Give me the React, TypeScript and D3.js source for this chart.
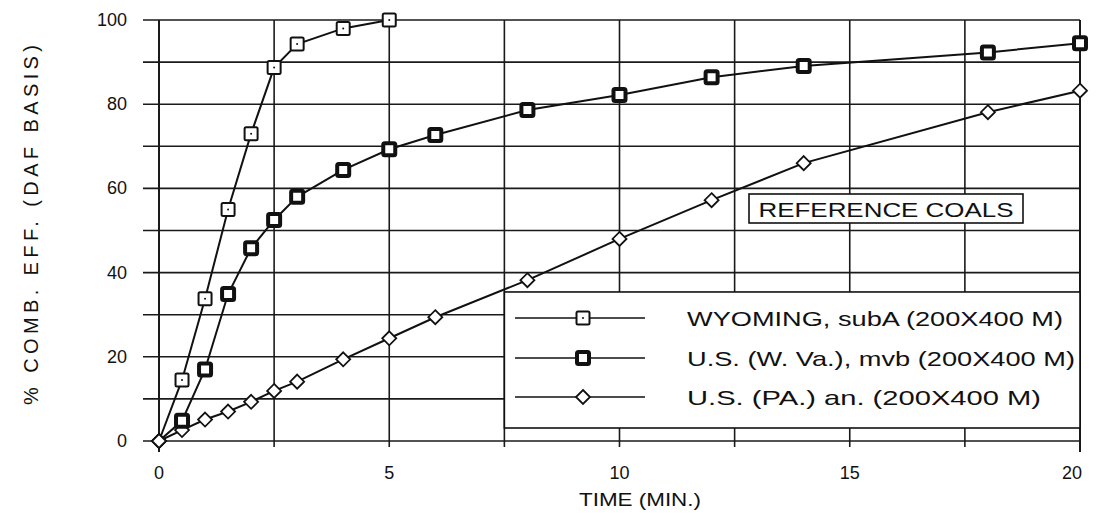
import React from "react";
import { scaleLinear, line, range } from "d3";

const wyomingTime = [0, 0.5, 1, 1.5, 2, 2.5, 3, 4, 5];
const wyomingEff = [0, 14.5, 33.8, 55, 73, 88.7, 94.3, 98, 100];

const wvaTime = [0, 0.5, 1, 1.5, 2, 2.5, 3, 4, 5, 6, 8, 10, 12, 14, 18, 20];
const wvaEff = [0, 4.8, 17, 34.9, 45.8, 52.5, 58, 64.4, 69.3, 72.7, 78.6, 82.2, 86.4, 89.1, 92.3, 94.5];

const paTime = [0, 0.5, 1, 1.5, 2, 2.5, 3, 4, 5, 6, 8, 10, 12, 14, 18, 20];
const paEff = [0, 2.6, 5.1, 7, 9.3, 11.9, 14.1, 19.4, 24.4, 29.4, 38.2, 48, 57.2, 66, 78.1, 83.2];

const xTicks = [0, 5, 10, 15, 20];
const yTicks = [0, 20, 40, 60, 80, 100];
const legendLabels = [
  "WYOMING, subA  (200X400 M)",
  "U.S. (W. Va.), mvb (200X400 M)",
  "U.S. (PA.) an. (200X400 M)",
];
const legendWidths = [376, 388, 354];

const W = 1097;
const H = 528;
const FONT = "'Liberation Sans', Arial, Helvetica, sans-serif";

const x = scaleLinear().domain([0, 20]).range([159, 1080]);
const y = scaleLinear().domain([0, 100]).range([441, 20]);

type Kind = "open" | "bold" | "diamond";

const Marker = ({ cx, cy, kind }: { cx: number; cy: number; kind: Kind }) => {
  if (kind === "diamond") {
    const r = 7;
    return (
      <path
        d={`M${cx},${cy - r}L${cx + r},${cy}L${cx},${cy + r}L${cx - r},${cy}Z`}
        fill="#fff"
        stroke="#111"
        strokeWidth={1.8}
      />
    );
  }
  const s = kind === "bold" ? 12 : 13;
  return (
    <g>
      <rect
        x={cx - s / 2}
        y={cy - s / 2}
        width={s}
        height={s}
        fill="#fff"
        stroke="#111"
        strokeWidth={kind === "bold" ? 4 : 2}
        rx={1.5}
      />
      {kind === "open" && <circle cx={cx} cy={cy} r={1} fill="#111" />}
    </g>
  );
};

const series: { t: number[]; v: number[]; kind: Kind }[] = [
  { t: paTime, v: paEff, kind: "diamond" },
  { t: wvaTime, v: wvaEff, kind: "bold" },
  { t: wyomingTime, v: wyomingEff, kind: "open" },
];

const legendX = x(7.5);
const legendTop = y(35.4);
const legendBottom = 428;
const legendRows = [318, 358, 397];
const legendKinds: Kind[] = ["open", "bold", "diamond"];

export default function App() {
  const path = line<[number, number]>()
    .x((d) => x(d[0]))
    .y((d) => y(d[1]));

  const hGrid = range(0, 101, 10);
  const vGrid = range(0, 20.01, 2.5);

  return (
    <svg
      width={W}
      height={H}
      style={{ position: "absolute", left: 0, top: 0, background: "#fff" }}
      fontFamily={FONT}
    >
      <rect width={W} height={H} fill="#fff" />

      {/* grid */}
      {hGrid.map((v) => (
        <line key={"h" + v} x1={143} x2={x(20)} y1={y(v)} y2={y(v)} stroke="#1a1a1a" strokeWidth={1.6} />
      ))}
      {vGrid.map((t) => (
        <line
          key={"v" + t}
          x1={x(t)}
          x2={x(t)}
          y1={y(100)}
          y2={t === 0 || t === 20 ? 452 : 447}
          stroke="#1a1a1a"
          strokeWidth={t === 0 || t === 20 ? 2 : 1.6}
        />
      ))}

      {/* tick labels */}
      {yTicks.map((v) => (
        <text key={"yt" + v} x={127} y={y(v)} textAnchor="end" dominantBaseline="central" fontSize={18} fill="#111">
          {v}
        </text>
      ))}
      {xTicks.map((t) => (
        <text key={"xt" + t} x={x(t) - (t === 20 ? 8 : 0)} y={473} textAnchor="middle" dominantBaseline="central" fontSize={18} fill="#111">
          {t}
        </text>
      ))}

      {/* axis titles */}
      <text x={640} y={500} textAnchor="middle" dominantBaseline="central" fontSize={18} fill="#111" textLength={122} lengthAdjust="spacingAndGlyphs">
        TIME (MIN.)
      </text>
      <text
        transform="translate(31,225) rotate(-90)"
        textAnchor="middle"
        dominantBaseline="central"
        fontSize={20}
        fill="#111"
        textLength={360}
        lengthAdjust="spacing"
      >
        % COMB. EFF. (DAF BASIS)
      </text>

      {/* legend */}
      <rect x={legendX} y={legendTop} width={x(20) - legendX} height={legendBottom - legendTop} fill="#fff" stroke="#111" strokeWidth={1.6} />
      {legendRows.map((ry, i) => (
        <g key={"lg" + i}>
          <line x1={515} x2={645} y1={ry} y2={ry} stroke="#111" strokeWidth={1.5} />
          <Marker cx={583} cy={ry} kind={legendKinds[i]} />
          <text
            x={687}
            y={ry}
            dominantBaseline="central"
            fontSize={21}
            fill="#111"
            textLength={legendWidths[i]}
            lengthAdjust="spacingAndGlyphs"
          >
            {legendLabels[i]}
          </text>
        </g>
      ))}

      {/* REFERENCE COALS label */}
      <rect x={749} y={194} width={274} height={29} fill="#fff" stroke="#111" strokeWidth={1.6} />
      <text x={886} y={209} textAnchor="middle" dominantBaseline="central" fontSize={21} fill="#111" textLength={255} lengthAdjust="spacingAndGlyphs">
        REFERENCE COALS
      </text>

      {/* data */}
      {series.map((s, si) => {
        const pts = s.t.map((t, i) => [t, s.v[i]] as [number, number]);
        return (
          <g key={"s" + si}>
            <path d={path(pts) || ""} fill="none" stroke="#111" strokeWidth={2} />
            {pts.map((p, i) => (
              <Marker key={i} cx={x(p[0])} cy={y(p[1])} kind={p[0] === 0 ? "diamond" : s.kind} />
            ))}
          </g>
        );
      })}
    </svg>
  );
}
